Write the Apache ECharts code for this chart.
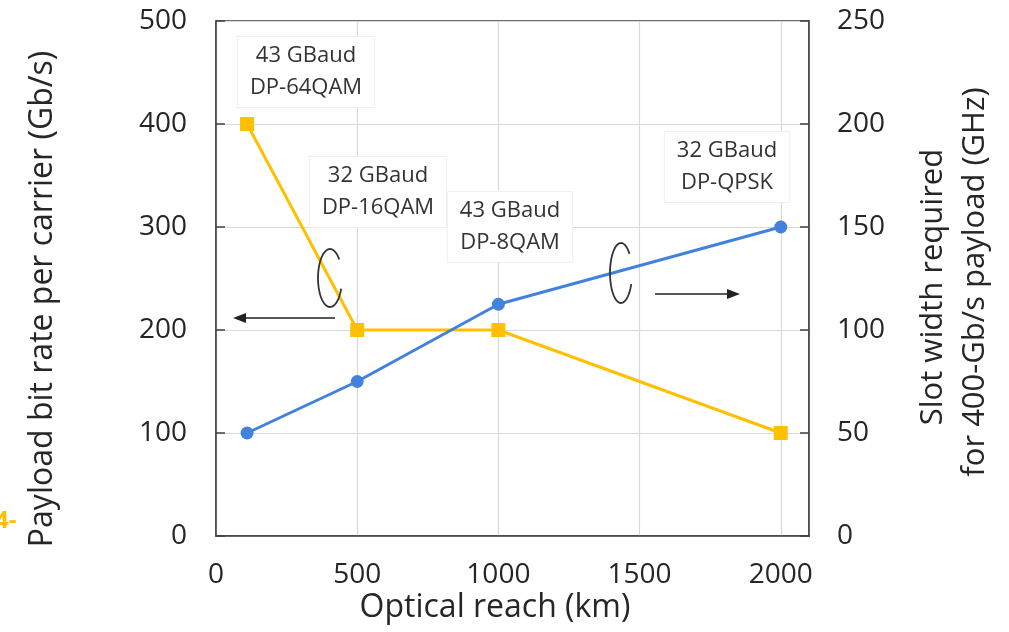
<!DOCTYPE html>
<html><head><meta charset="utf-8">
<script src="https://cdn.jsdelivr.net/npm/echarts@6/dist/echarts.min.js"></script>
<style>html,body{margin:0;padding:0;background:#fff}#c{width:1009px;height:632px}</style>
</head><body><div id="c"></div>
<script>
const reachKm = [110, 500, 1000, 2000];
const bitRate = [400, 200, 200, 100];
const slotWidth = [50, 75, 112.5, 150];
const xTicks = [0, 500, 1000, 1500, 2000];
const leftTicks = [0, 100, 200, 300, 400, 500];
const rightTicks = [0, 50, 100, 150, 200, 250];
const annotations = [
  ['43 GBaud', 'DP-64QAM'],
  ['32 GBaud', 'DP-16QAM'],
  ['43 GBaud', 'DP-8QAM'],
  ['32 GBaud', 'DP-QPSK']
];
const xTitle = 'Optical reach (km)';
const leftTitle = 'Payload bit rate per carrier (Gb/s)';
const rightTitle = ['Slot width required', 'for 400-Gb/s payload (GHz)'];

const FONT = '"Open Sans", "Liberation Sans", sans-serif';
const chart = echarts.init(document.getElementById('c'));
const axisColor = '#404040';
const textColor = '#262626';

function annText(a, x, y) {
  return {
    type: 'text', x: x, y: y, z: 5,
    style: {
      text: a[0] + '\n' + a[1], align: 'center', verticalAlign: 'top',
      font: '22px ' + FONT, fill: '#333', lineHeight: 32,
      backgroundColor: '#fff', borderColor: '#f0f0f0', borderWidth: 1,
      padding: [3, 12, 3, 12]
    }
  };
}
function loop(cx, cy, rx, ry) {
  const pts = [];
  const a0 = 0.12 * Math.PI, a1 = 1.78 * Math.PI;
  for (let i = 0; i <= 60; i++) {
    const a = a0 + (a1 - a0) * i / 60;
    pts.push([cx + rx * Math.cos(a), cy + ry * Math.sin(a)]);
  }
  return { type: 'polyline', z: 6, shape: { points: pts },
    style: { fill: null, stroke: '#333', lineWidth: 1.8 } };
}
function arrow(x0, x1, y) {
  const d = x1 > x0 ? 1 : -1;
  return [
    { type: 'line', z: 6, shape: { x1: x0, y1: y, x2: x1 - d * 8, y2: y }, style: { stroke: '#222', lineWidth: 1.6 } },
    { type: 'polygon', z: 6, shape: { points: [[x1, y], [x1 - d * 13, y - 5], [x1 - d * 13, y + 5]] }, style: { fill: '#222' } }
  ];
}

const option = {
  animation: false,
  grid: { left: 216, right: 200, top: 21, bottom: 96, show: true, borderColor: axisColor, borderWidth: 1.5 },
  xAxis: {
    type: 'value', min: 0, max: 2100, interval: 500,
    axisLine: { show: true, lineStyle: { color: axisColor, width: 1.5 } },
    axisTick: { show: false },
    axisLabel: { fontFamily: FONT, fontSize: 28, color: textColor, margin: 25,
      formatter: v => xTicks.includes(v) ? String(v) : '' },
    splitLine: { show: true, lineStyle: { color: '#d9d9d9', width: 1.2 } }
  },
  yAxis: [
    {
      type: 'value', min: 0, max: 500, interval: 100, position: 'left',
      axisLine: { show: true, lineStyle: { color: axisColor, width: 1.5 } },
      axisTick: { show: true, inside: true, length: 9, lineStyle: { color: axisColor, width: 1.5 } },
      axisLabel: { fontFamily: FONT, fontSize: 28, color: textColor, margin: 29,
        formatter: v => leftTicks.includes(v) ? String(v) : '' },
      splitLine: { show: true, lineStyle: { color: '#d9d9d9', width: 1.2 } }
    },
    {
      type: 'value', min: 0, max: 250, interval: 50, position: 'right',
      axisLine: { show: true, lineStyle: { color: axisColor, width: 1.5 } },
      axisTick: { show: true, inside: true, length: 9, lineStyle: { color: axisColor, width: 1.5 } },
      axisLabel: { fontFamily: FONT, fontSize: 28, color: textColor, margin: 28,
        formatter: v => rightTicks.includes(v) ? String(v) : '' },
      splitLine: { show: false }
    }
  ],
  series: [
    {
      type: 'line', yAxisIndex: 0, data: reachKm.map((x, i) => [x, bitRate[i]]),
      symbol: 'rect', symbolSize: 14, z: 3,
      lineStyle: { color: '#ffc000', width: 3 }, itemStyle: { color: '#ffc000' }
    },
    {
      type: 'line', yAxisIndex: 1, data: reachKm.map((x, i) => [x, slotWidth[i]]),
      symbol: 'circle', symbolSize: 13, z: 4,
      lineStyle: { color: '#4282dc', width: 3 }, itemStyle: { color: '#4282dc' }
    }
  ],
  graphic: [
    annText(annotations[0], 306, 37),
    annText(annotations[1], 378, 157),
    annText(annotations[2], 510, 192),
    annText(annotations[3], 727, 132),
    loop(330, 278, 12, 29),
    loop(621, 273, 11, 30),
    ...arrow(335, 233, 318),
    ...arrow(655, 740, 294),
    { type: 'text', x: 495, y: 608, z: 5,
      style: { text: xTitle, align: 'center', verticalAlign: 'middle', font: '32px ' + FONT, fill: textColor } },
    { type: 'text', x: 43, y: 299, rotation: Math.PI / 2, z: 5,
      style: { text: leftTitle, align: 'center', verticalAlign: 'middle', font: '32px ' + FONT, fill: textColor } },
    { type: 'text', x: 933, y: 287, rotation: Math.PI / 2, z: 5,
      style: { text: rightTitle[0], align: 'center', verticalAlign: 'middle', font: '31px ' + FONT, fill: textColor } },
    { type: 'text', x: 975, y: 282, rotation: Math.PI / 2, z: 5,
      style: { text: rightTitle[1], align: 'center', verticalAlign: 'middle', font: '31px ' + FONT, fill: textColor } },
    { type: 'text', x: -5, y: 521, z: 5,
      style: { text: '4-', align: 'left', verticalAlign: 'middle', font: 'bold 24px ' + FONT, fill: '#ffc000' } }
  ]
};
chart.setOption(option);
</script></body></html>
